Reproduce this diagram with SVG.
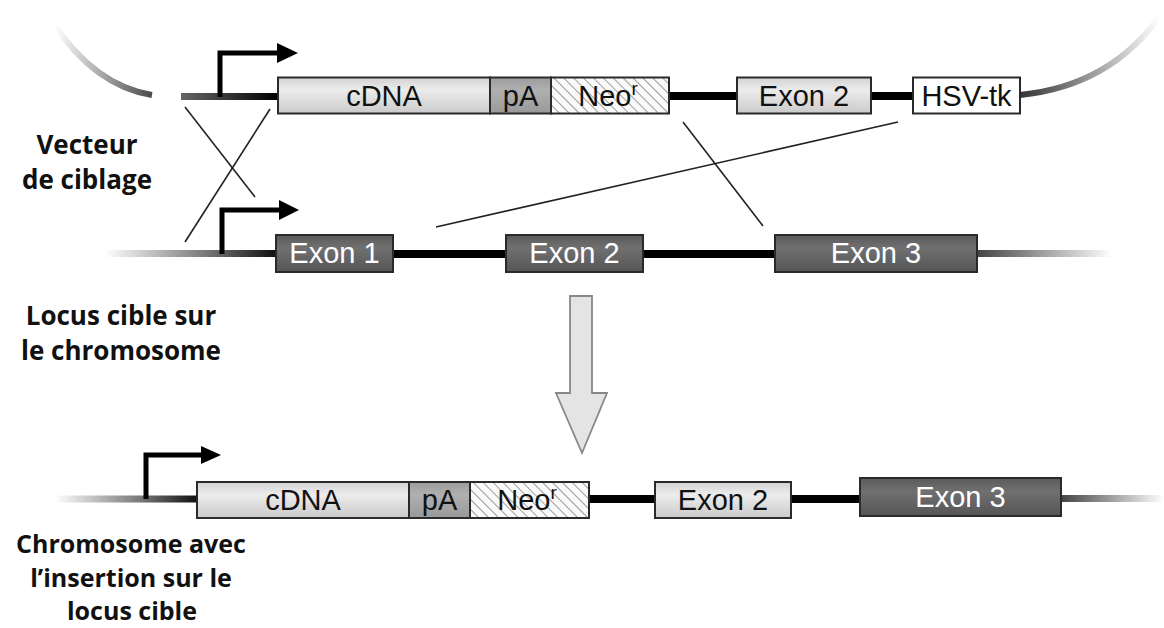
<svg xmlns="http://www.w3.org/2000/svg" width="1164" height="628" viewBox="0 0 1164 628">
<style>
.box{stroke:#2a2a2a;stroke-width:2}
.light{fill:url(#gLight)}
.dark{fill:url(#gDark)}
.pa{fill:url(#gPA)}
.neo{fill:url(#hatch)}
.white{fill:#fff}
.bt{font-family:"Liberation Sans",Arial,sans-serif;font-size:29px;text-anchor:middle;fill:#111}
.wt{fill:#fff}
.lbl{font-family:"Open Sans","Noto Sans",sans-serif;font-weight:700;font-size:26px;text-anchor:middle;fill:#111}
.lbl2{font-size:25px}
.blk{stroke:#000;stroke-width:8;fill:none}
.cross{stroke:#222;stroke-width:1.6;fill:none}
.prom{stroke:#000;stroke-width:5;fill:none}
</style>
<defs>
<linearGradient id="gLight" x1="0" y1="0" x2="0" y2="1">
<stop offset="0" stop-color="#d2d2d2"/><stop offset="0.35" stop-color="#ececec"/><stop offset="1" stop-color="#cacaca"/>
</linearGradient>
<linearGradient id="gDark" x1="0" y1="0" x2="0" y2="1">
<stop offset="0" stop-color="#5a5a5a"/><stop offset="0.35" stop-color="#707070"/><stop offset="1" stop-color="#555"/>
</linearGradient>
<linearGradient id="gPA" x1="0" y1="0" x2="0" y2="1">
<stop offset="0" stop-color="#9c9c9c"/><stop offset="0.35" stop-color="#b0b0b0"/><stop offset="1" stop-color="#999"/>
</linearGradient>
<pattern id="hatch" width="7" height="7" patternUnits="userSpaceOnUse" patternTransform="rotate(-45)">
<rect width="7" height="7" fill="#fafafa"/><line x1="0" y1="0" x2="0" y2="7" stroke="#888" stroke-width="1.6"/>
</pattern>
<linearGradient id="gTL" gradientUnits="userSpaceOnUse" x1="55" y1="0" x2="152" y2="0">
<stop offset="0" stop-color="#fff"/><stop offset="1" stop-color="#4a4a4a"/>
</linearGradient>
<linearGradient id="gTR" gradientUnits="userSpaceOnUse" x1="1020" y1="0" x2="1160" y2="0">
<stop offset="0" stop-color="#333"/><stop offset="1" stop-color="#fff"/>
</linearGradient>
<linearGradient id="gTLine" gradientUnits="userSpaceOnUse" x1="181" y1="0" x2="278" y2="0">
<stop offset="0" stop-color="#666"/><stop offset="1" stop-color="#000"/>
</linearGradient>
<linearGradient id="gML" gradientUnits="userSpaceOnUse" x1="105" y1="0" x2="275" y2="0">
<stop offset="0" stop-color="#fff"/><stop offset="0.6" stop-color="#777"/><stop offset="1" stop-color="#111"/>
</linearGradient>
<linearGradient id="gMR" gradientUnits="userSpaceOnUse" x1="977" y1="0" x2="1112" y2="0">
<stop offset="0" stop-color="#444"/><stop offset="1" stop-color="#fff"/>
</linearGradient>
<linearGradient id="gBL" gradientUnits="userSpaceOnUse" x1="55" y1="0" x2="197" y2="0">
<stop offset="0" stop-color="#fff"/><stop offset="0.6" stop-color="#777"/><stop offset="1" stop-color="#111"/>
</linearGradient>
<linearGradient id="gBR" gradientUnits="userSpaceOnUse" x1="1061" y1="0" x2="1164" y2="0">
<stop offset="0" stop-color="#444"/><stop offset="1" stop-color="#fff"/>
</linearGradient>
</defs>
<rect width="1164" height="628" fill="#fff"/>

<g id="connectors">
<path d="M52,22 Q95,86 152,95" stroke="url(#gTL)" stroke-width="6" fill="none"/>
<line x1="181" y1="96.5" x2="279" y2="96.5" stroke="url(#gTLine)" stroke-width="7"/>
<line x1="669" y1="96" x2="737" y2="96" class="blk"/>
<line x1="871" y1="96" x2="913" y2="96" class="blk"/>
<path d="M1020,95 Q1112,86 1163,12" stroke="url(#gTR)" stroke-width="6" fill="none"/>
<line x1="105" y1="253.5" x2="276" y2="253.5" stroke="url(#gML)" stroke-width="7"/>
<line x1="393" y1="254" x2="506" y2="254" class="blk"/>
<line x1="643" y1="254" x2="775" y2="254" class="blk"/>
<line x1="977" y1="253.5" x2="1112" y2="253.5" stroke="url(#gMR)" stroke-width="7"/>
<line x1="55" y1="499" x2="197" y2="499" stroke="url(#gBL)" stroke-width="7"/>
<line x1="589" y1="499" x2="655" y2="499" class="blk"/>
<line x1="791" y1="499" x2="860" y2="499" class="blk"/>
<line x1="1061" y1="498.5" x2="1164" y2="498.5" stroke="url(#gBR)" stroke-width="7"/>
<line x1="185" y1="107" x2="255" y2="197" class="cross"/>
<line x1="270" y1="109" x2="185" y2="242" class="cross"/>
<line x1="683" y1="122" x2="763" y2="226" class="cross"/>
<line x1="898" y1="122" x2="436" y2="227" class="cross"/>
<path d="M220,97 V53 H284" class="prom"/>
<polygon points="277,43 298,53 277,63" fill="#000"/>
<path d="M222,254 V210 H286" class="prom"/>
<polygon points="279,200 299,210 279,220" fill="#000"/>
<path d="M146,499 V455 H208" class="prom"/>
<polygon points="201,446 221,455 201,464" fill="#000"/>
<polygon points="570,296 592,296 592,393 607,393 582,453 556,393 570,393" fill="#e4e4e4" stroke="#888" stroke-width="1.8"/>
</g>

<g id="vec-cdna"><rect class="box light" x="278" y="77.5" width="212" height="36"/><text class="bt" x="384" y="106">cDNA</text></g>
<g id="vec-pa"><rect class="box pa" x="490" y="77.5" width="61" height="36"/><text class="bt" x="520.5" y="106">pA</text></g>
<g id="vec-neo"><rect class="box neo" x="551" y="77.5" width="118" height="36"/><text class="bt" x="608" y="106">Neo<tspan font-size="19" dy="-11">r</tspan></text></g>
<g id="vec-exon2"><rect class="box light" x="737" y="77.5" width="134" height="36"/><text class="bt" x="804" y="106">Exon 2</text></g>
<g id="vec-hsvtk"><rect class="box white" x="913" y="77.5" width="107" height="36"/><text class="bt" x="966.5" y="106">HSV-tk</text></g>

<g id="loc-exon1"><rect class="box dark" x="276" y="235" width="117" height="37"/><text class="bt wt" x="334.5" y="263">Exon 1</text></g>
<g id="loc-exon2"><rect class="box dark" x="506" y="235" width="137" height="37"/><text class="bt wt" x="574.5" y="263">Exon 2</text></g>
<g id="loc-exon3"><rect class="box dark" x="775" y="235" width="202" height="37"/><text class="bt wt" x="876" y="263">Exon 3</text></g>

<g id="res-cdna"><rect class="box light" x="197" y="482" width="212" height="36"/><text class="bt" x="303" y="510">cDNA</text></g>
<g id="res-pa"><rect class="box pa" x="409" y="482" width="61" height="36"/><text class="bt" x="439.5" y="510">pA</text></g>
<g id="res-neo"><rect class="box neo" x="470" y="482" width="119" height="36"/><text class="bt" x="527" y="510">Neo<tspan font-size="19" dy="-11">r</tspan></text></g>
<g id="res-exon2"><rect class="box light" x="655" y="482" width="136" height="36"/><text class="bt" x="723" y="510">Exon 2</text></g>
<g id="res-exon3"><rect class="box dark" x="860" y="478" width="201" height="38"/><text class="bt wt" x="960.5" y="507">Exon 3</text></g>

<g id="label-vecteur"><text class="lbl" x="87" y="154">Vecteur</text><text class="lbl" x="87" y="189">de ciblage</text></g>
<g id="label-locus"><text class="lbl" x="121" y="325">Locus cible sur</text><text class="lbl" x="121" y="360">le chromosome</text></g>
<g id="label-result"><text class="lbl lbl2" x="131" y="553">Chromosome avec</text><text class="lbl lbl2" x="131" y="587">l’insertion sur le</text><text class="lbl lbl2" x="132" y="620">locus cible</text></g>
</svg>
